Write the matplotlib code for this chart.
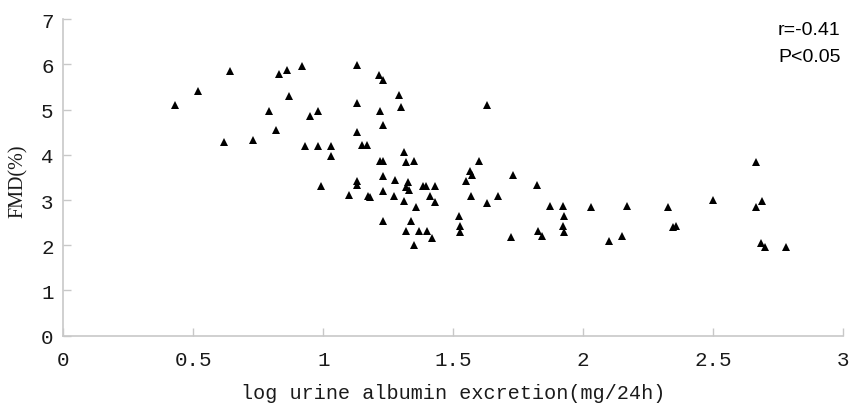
import matplotlib.pyplot as plt

# log urine albumin excretion vs FMD
log_uae = [0.43, 0.52, 0.64, 0.62, 0.73, 0.79, 0.82, 0.83, 0.86, 0.87,
           0.92, 0.93, 0.95, 0.98, 0.98, 1.03, 1.03, 0.99, 1.13, 1.13,
           1.13, 1.15, 1.17, 1.215, 1.23, 1.218, 1.23, 1.29, 1.30, 1.31,
           1.218, 1.231, 1.318, 1.35, 1.60, 1.131, 1.131, 1.231, 1.278, 1.325,
           1.318, 1.330, 1.382, 1.394, 1.431, 1.099, 1.171, 1.180, 1.231, 1.271,
           1.310, 1.410, 1.431, 1.358, 1.231, 1.337, 1.318, 1.369, 1.398, 1.418,
           1.350, 1.522, 1.528, 1.528, 1.563, 1.571, 1.549, 1.569, 1.630, 1.730,
           1.821, 2.667, 1.631, 1.671, 1.871, 1.922, 1.928, 1.922, 1.928, 2.030,
           2.170, 2.327, 2.500, 2.667, 2.687, 2.346, 2.359, 2.101, 2.148, 1.721,
           1.827, 1.841, 2.685, 2.700, 2.780]
fmd = [5.10, 5.41, 5.86, 4.29, 4.33, 4.98, 4.54, 5.78, 5.87, 5.30,
       5.96, 4.20, 4.86, 4.98, 4.20, 4.20, 3.98, 3.32, 5.99, 5.15,
       4.50, 4.22, 4.22, 5.76, 5.66, 4.98, 4.66, 5.32, 5.07, 4.06,
       3.87, 3.87, 3.84, 3.87, 3.87, 3.43, 3.33, 3.54, 3.44, 3.41,
       3.30, 3.22, 3.32, 3.32, 3.32, 3.11, 3.10, 3.06, 3.20, 3.10,
       2.99, 3.10, 2.95, 2.84, 2.53, 2.53, 2.32, 2.32, 2.32, 2.16,
       2.01, 2.64, 2.43, 2.29, 3.65, 3.56, 3.43, 3.10, 5.11, 3.56,
       3.33, 3.85, 2.94, 3.10, 2.86, 2.86, 2.65, 2.43, 2.30, 2.85,
       2.86, 2.84, 3.00, 2.85, 2.97, 2.41, 2.43, 2.10, 2.20, 2.19,
       2.32, 2.20, 2.05, 1.96, 1.96]

x_ticks = [0, 0.5, 1, 1.5, 2, 2.5, 3]
x_labels = ['0', '0.5', '1', '1.5', '2', '2.5', '3']
y_ticks = [0, 1, 2, 3, 4, 5, 6, 7]

fig = plt.figure(figsize=(8.5, 4.06), dpi=100)
ax = fig.add_axes([0.0745, 0.1707, 0.9173, 0.7793])

ax.plot(log_uae, fmd, linestyle='none', marker='^', markersize=6.3,
        color='black', markeredgewidth=0)

ax.set_xlim(0, 3)
ax.set_ylim(0, 7)
ax.set_xticks(x_ticks)
ax.set_xticklabels(x_labels)
ax.set_yticks(y_ticks)

for s in ['top', 'right']:
    ax.spines[s].set_visible(False)
for s in ['left', 'bottom']:
    ax.spines[s].set_color('#c8c8c8')
    ax.spines[s].set_linewidth(1.2)

ax.tick_params(direction='in', length=6, width=1, color='#c8c8c8',
               labelsize=15)
ax.tick_params(axis='x', pad=10)
ax.tick_params(axis='y', pad=7)
for lab in ax.get_xticklabels() + ax.get_yticklabels():
    lab.set_family('Liberation Mono')
    lab.set_color('#1a1a1a')

ax.set_xlabel('log urine albumin excretion(mg/24h)', family='Liberation Mono',
              fontsize=14.5, color='#1a1a1a', labelpad=10.5)
ax.set_ylabel('FMD(%)', family='Liberation Serif', fontsize=14.5,
              color='#1a1a1a')
ax.yaxis.set_label_coords(-0.045, 0.49)

ax.text(0.9166, 0.967, 'r=-0.41', transform=ax.transAxes, family='Liberation Sans',
        fontsize=14, ha='left', va='center')
ax.text(0.9166, 0.881, 'P<0.05', transform=ax.transAxes, family='Liberation Sans',
        fontsize=14, ha='left', va='center')

fig.savefig('out.png', dpi=100)
